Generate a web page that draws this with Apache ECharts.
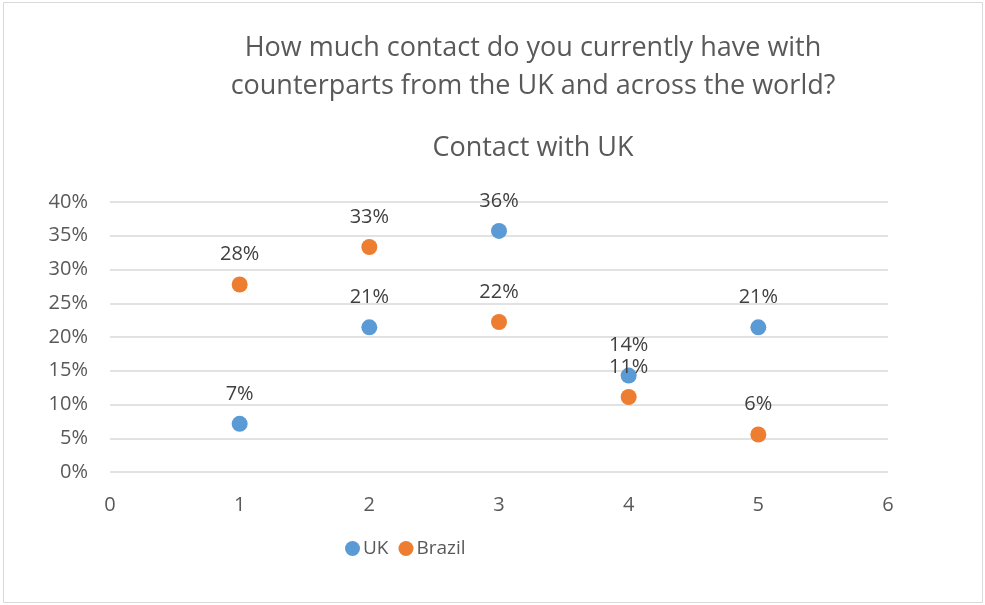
<!DOCTYPE html>
<html>
<head>
<meta charset="utf-8">
<script src="https://cdn.jsdelivr.net/npm/echarts@6/dist/echarts.min.js"></script>
<style>
  html, body { margin: 0; padding: 0; background: #fff; }
  #chart { width: 985px; height: 605px; }
</style>
</head>
<body>
<div id="chart"></div>
<script>
const xValues = [1, 2, 3, 4, 5];
const ukValues = [0.0714, 0.2143, 0.3571, 0.1429, 0.2143];
const brazilValues = [0.2778, 0.3333, 0.2222, 0.1111, 0.0556];
const seriesNames = ['UK', 'Brazil'];

const font = 'Open Sans';
const pct = v => Math.round(v * 100) + '%';

let myChart = echarts.init(document.getElementById('chart'));

function makeSeries(name, values, color) {
  return {
    name: name,
    type: 'scatter',
    symbolSize: 16,
    itemStyle: { color: color, opacity: 1 },
    label: {
      show: true,
      position: 'top',
      distance: 12,
      fontFamily: font,
      fontSize: 20,
      color: '#404040',
      formatter: p => pct(p.value[1])
    },
    data: xValues.map((x, i) => [x, values[i]])
  };
}

myChart.setOption({
  animation: false,
  backgroundColor: '#fff',
  graphic: [{
    type: 'rect',
    shape: { x: 3.5, y: 2.5, width: 979, height: 600 },
    style: { fill: 'none', stroke: '#d9d9d9', lineWidth: 1 }
  }],
  title: [{
    text: 'How much contact do you currently have with\ncounterparts from the UK and across the world?',
    left: 528,
    top: 24,
    textAlign: 'center',
    textStyle: { fontFamily: font, fontSize: 27, fontWeight: 'normal', color: '#595959', lineHeight: 38 }
  }, {
    text: 'Contact with UK',
    left: 528,
    top: 130,
    textAlign: 'center',
    textStyle: { fontFamily: font, fontSize: 27, fontWeight: 'normal', color: '#595959' }
  }],
  legend: {
    data: seriesNames,
    left: 340,
    top: 534,
    icon: 'circle',
    itemWidth: 15,
    itemHeight: 15,
    itemGap: 10,
    textStyle: { fontFamily: font, fontSize: 19, color: '#595959', padding: [0, 0, 0, -2] }
  },
  grid: { left: 110, right: 97, top: 202, bottom: 133, containLabel: false },
  xAxis: {
    type: 'value',
    min: 0,
    max: 6,
    interval: 1,
    axisLine: { show: false },
    axisTick: { show: false },
    splitLine: { show: false },
    axisLabel: { fontFamily: font, fontSize: 20, color: '#595959', margin: 23 }
  },
  yAxis: {
    type: 'value',
    min: 0,
    max: 0.4,
    interval: 0.05,
    axisLine: { show: false },
    axisTick: { show: false },
    splitLine: { lineStyle: { color: '#d9d9d9', width: 1.5 } },
    axisLabel: { fontFamily: font, fontSize: 20, color: '#595959', margin: 22, formatter: v => pct(v) }
  },
  series: [
    makeSeries(seriesNames[0], ukValues, '#5b9bd5'),
    makeSeries(seriesNames[1], brazilValues, '#ed7d31')
  ]
});
</script>
</body>
</html>
